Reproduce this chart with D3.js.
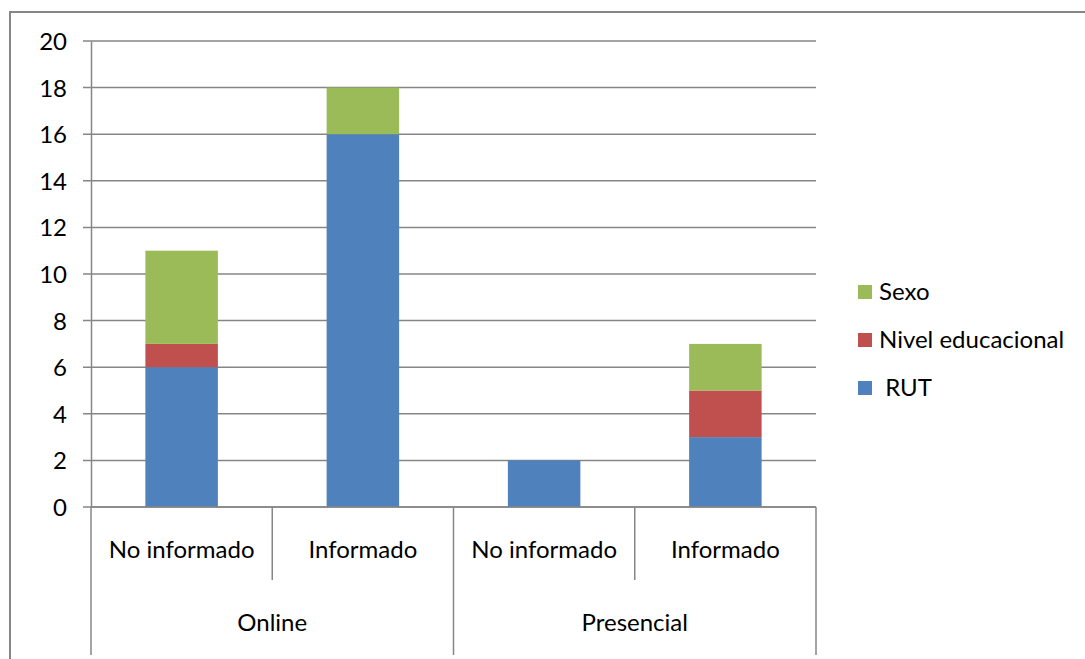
<!DOCTYPE html>
<html><head><meta charset="utf-8">
<script src="https://cdn.jsdelivr.net/npm/d3@7/dist/d3.min.js"></script>
<style>body{margin:0;background:#fff}svg{display:block}text{font-family:Lato,"Open Sans",sans-serif;fill:#000}</style>
</head><body><svg id="c" width="1085" height="659"></svg>
<script>
const groups = ["Online", "Presencial"];
const categories = ["No informado", "Informado", "No informado", "Informado"];
const categoryGroup = ["Online", "Online", "Presencial", "Presencial"];
const seriesNames = ["RUT", "Nivel educacional", "Sexo"];
const legendLabels = [" RUT", "Nivel educacional", "Sexo"];
const rut = [6, 16, 2, 3];
const nivel = [1, 0, 0, 2];
const sexo = [4, 2, 0, 2];
const yTicks = [0, 2, 4, 6, 8, 10, 12, 14, 16, 18, 20];
const colors = ["#4F81BD", "#C0504D", "#9BBB59"];

const svg = d3.select("#c");
const L = 91, R = 816, T = 41, B = 507;
const grid = "#868686";
const fs = "24px";

svg.append("rect").attr("x", 10).attr("y", 12).attr("width", 1200).attr("height", 800)
  .attr("fill", "none").attr("stroke", grid).attr("stroke-width", 2);

const y = d3.scaleLinear().domain([0, 20]).range([B, T]);
const idx = d3.range(categories.length);
const x = d3.scaleBand().domain(idx).range([L, R]).paddingInner(0).paddingOuter(0);

// gridlines
svg.append("g").selectAll("line").data(yTicks).join("line")
  .attr("x1", L - 8).attr("x2", R).attr("y1", d => y(d)).attr("y2", d => y(d))
  .attr("stroke", grid).attr("stroke-width", 1.5);

const yAxis = d3.axisLeft(y).tickValues(yTicks).tickSize(0).tickPadding(24);
const gy = svg.append("g").attr("transform", `translate(${L},0)`).call(yAxis);
gy.select(".domain").attr("stroke", grid).attr("stroke-width", 1.5);
gy.selectAll("text").style("font-size", fs).style("font-family", "Lato").attr("dy", "0.35em");

// stacked bars
const rows = idx.map(i => ({i, "RUT": rut[i], "Nivel educacional": nivel[i], "Sexo": sexo[i]}));
const stack = d3.stack().keys(seriesNames)(rows);
const bw = x.bandwidth() * 0.4;
svg.append("g").selectAll("g").data(stack).join("g").attr("fill", (d, k) => colors[k])
  .selectAll("rect").data(d => d).join("rect")
  .attr("x", d => x(d.data.i) + (x.bandwidth() - bw) / 2)
  .attr("width", bw)
  .attr("y", d => y(d[1]))
  .attr("height", d => y(d[0]) - y(d[1]));

// x axis
svg.append("line").attr("x1", L).attr("x2", R).attr("y1", B).attr("y2", B)
  .attr("stroke", grid).attr("stroke-width", 1.5);
const ax = svg.append("g");
idx.forEach(i => {
  ax.append("text").attr("x", x(i) + x.bandwidth() / 2).attr("y", B + 43).attr("dy", "0.35em")
    .attr("text-anchor", "middle").style("font-size", fs).text(categories[i]);
});
// separators
const boundaries = d3.range(categories.length + 1);
boundaries.forEach(b => {
  const xp = b < categories.length ? x(b) : R;
  const isGroup = b === 0 || b === categories.length || categoryGroup[b] !== categoryGroup[b - 1];
  ax.append("line").attr("x1", xp).attr("x2", xp).attr("y1", B).attr("y2", isGroup ? 655 : 580)
    .attr("stroke", grid).attr("stroke-width", 1.5);
});
groups.forEach(g => {
  const members = idx.filter(i => categoryGroup[i] === g);
  const x0 = x(members[0]), x1 = x(members[members.length - 1]) + x.bandwidth();
  ax.append("text").attr("x", (x0 + x1) / 2).attr("y", B + 116).attr("dy", "0.35em")
    .attr("text-anchor", "middle").style("font-size", fs).text(g);
});

// legend
const legOrder = [2, 1, 0];
const lg = svg.append("g");
legOrder.forEach((k, j) => {
  const cy = 292 + j * 48;
  lg.append("rect").attr("x", 858).attr("y", cy - 7).attr("width", 14).attr("height", 14).attr("fill", colors[k]);
  lg.append("text").attr("x", 879).attr("y", cy).attr("dy", "0.35em").style("font-size", fs)
    .attr("xml:space", "preserve").text(legendLabels[k]);
});
</script></body></html>
